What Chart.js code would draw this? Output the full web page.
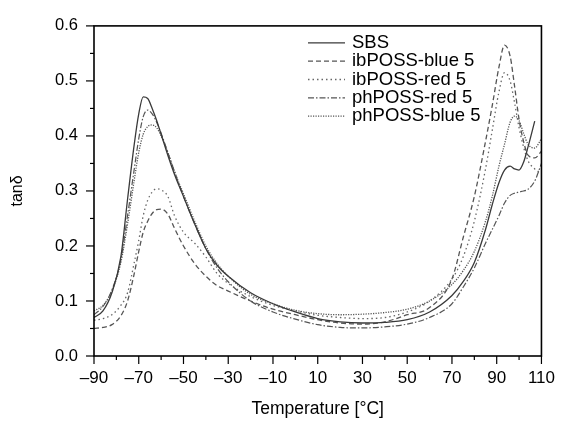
<!DOCTYPE html>
<html>
<head>
<meta charset="utf-8">
<script src="https://cdn.jsdelivr.net/npm/chart.js@4/dist/chart.umd.min.js"></script>
<style>
  html, body { margin: 0; padding: 0; background: #fff; }
  #wrap { width: 567px; height: 421px; }
</style>
</head>
<body>
<div id="wrap"><canvas id="tan-chart" width="567" height="421"></canvas></div>
<script>
// tan delta vs temperature (DMA)

const FONT = '"Liberation Sans", Arial, sans-serif';

const seriesNames = ['SBS', 'ibPOSS-blue 5', 'ibPOSS-red 5', 'phPOSS-red 5', 'phPOSS-blue 5'];

const temps = [-90, -86, -82, -78, -75, -72, -70, -68, -66, -64, -62, -60, -57, -54, -50, -45, -40, -35, -30, -20,
               -10, 0, 10, 20, 30, 40, 50, 60, 70, 75, 80, 85, 88, 91, 93.5, 96, 98, 100, 102, 104, 107, 110];

const sbs = [0.070, 0.082, 0.115, 0.180, 0.285, 0.385, 0.440, 0.471, 0.468, 0.450, 0.428, 0.403, 0.365, 0.330, 0.290, 0.240, 0.195, 0.165, 0.145, 0.115,
             0.095, 0.080, 0.068, 0.062, 0.060, 0.061, 0.066, 0.080, 0.110, 0.135, 0.170, 0.230, 0.275, 0.315, 0.338, 0.345, 0.340, 0.338, 0.352, 0.380, 0.427, null];

const ibBlue = [0.050, 0.052, 0.057, 0.073, 0.100, 0.150, 0.190, 0.225, 0.245, 0.259, 0.266, 0.267, 0.258, 0.232, 0.200, 0.168, 0.145, 0.128, 0.118, 0.100,
                0.085, 0.075, 0.066, 0.060, 0.058, 0.062, 0.075, 0.088, 0.140, 0.215, 0.290, 0.390, 0.455, 0.525, 0.565, 0.545, 0.490, 0.430, 0.390, 0.365, 0.360, 0.372];

const ibRed = [0.065, 0.068, 0.075, 0.092, 0.115, 0.170, 0.210, 0.255, 0.283, 0.298, 0.304, 0.302, 0.290, 0.255, 0.225, 0.205, 0.180, 0.150, 0.132, 0.108,
               0.092, 0.082, 0.074, 0.070, 0.068, 0.070, 0.080, 0.100, 0.140, 0.180, 0.245, 0.340, 0.410, 0.480, 0.515, 0.500, 0.460, 0.415, 0.380, 0.355, 0.340, 0.332];

const phRed = [0.075, 0.090, 0.120, 0.175, 0.255, 0.340, 0.395, 0.435, 0.447, 0.440, 0.425, 0.405, 0.370, 0.335, 0.290, 0.240, 0.195, 0.160, 0.135, 0.100,
               0.080, 0.067, 0.057, 0.052, 0.051, 0.053, 0.058, 0.070, 0.095, 0.125, 0.160, 0.205, 0.230, 0.255, 0.278, 0.292, 0.296, 0.298, 0.300, 0.303, 0.318, 0.350];

const phBlue = [0.082, 0.092, 0.118, 0.170, 0.240, 0.320, 0.370, 0.403, 0.417, 0.420, 0.415, 0.400, 0.370, 0.335, 0.295, 0.245, 0.200, 0.168, 0.145, 0.112,
                0.095, 0.083, 0.077, 0.075, 0.076, 0.079, 0.085, 0.100, 0.130, 0.155, 0.190, 0.245, 0.290, 0.345, 0.385, 0.425, 0.436, 0.428, 0.405, 0.385, 0.378, 0.395];

const xTickLabels = [-90, -70, -50, -30, -10, 10, 30, 50, 70, 90, 110];
const yTickLabels = [0.0, 0.1, 0.2, 0.3, 0.4, 0.5, 0.6];

const lineStyles = [
    { color: '#3a3a3a', width: 1.3, dash: [] },
    { color: '#555', width: 1.3, dash: [5, 3] },
    { color: '#666', width: 1.3, dash: [1.5, 3] },
    { color: '#555', width: 1.2, dash: [6, 2, 1.5, 2] },
    { color: '#555', width: 1.3, dash: [1.2, 1.3] },
];

function toPoints(values) {
    return temps.map((t, i) => ({ x: t, y: values[i] }));
}

const allSeries = [sbs, ibBlue, ibRed, phRed, phBlue];

// --- Plugins ---

const framePlugin = {
    id: 'frame',
    afterDraw(chart) {
        const { ctx, chartArea: a, scales } = chart;
        ctx.save();
        ctx.strokeStyle = '#000';
        ctx.lineWidth = 1.6;
        ctx.strokeRect(a.left, a.top, a.right - a.left, a.bottom - a.top);

        // tick marks, longer on labelled values
        ctx.lineWidth = 1.2;
        scales.x.ticks.forEach(t => {
            const px = scales.x.getPixelForValue(t.value);
            const major = xTickLabels.includes(Math.round(t.value));
            ctx.beginPath();
            ctx.moveTo(px, a.bottom);
            ctx.lineTo(px, a.bottom + (major ? 8 : 4));
            ctx.stroke();
        });
        scales.y.ticks.forEach(t => {
            const py = scales.y.getPixelForValue(t.value);
            const major = Math.abs(t.value * 10 - Math.round(t.value * 10)) < 1e-6;
            ctx.beginPath();
            ctx.moveTo(a.left, py);
            ctx.lineTo(a.left - (major ? 8 : 4), py);
            ctx.stroke();
        });
        ctx.restore();
    }
};

const legendPlugin = {
    id: 'lineLegend',
    afterDraw(chart) {
        const { ctx, chartArea: a } = chart;
        const x0 = a.left + 214;
        const y0 = a.top + 17;
        ctx.save();
        ctx.font = '18.5px ' + FONT;
        ctx.textBaseline = 'middle';
        ctx.fillStyle = '#000';
        chart.data.datasets.forEach((ds, i) => {
            const y = y0 + i * 18.3;
            ctx.strokeStyle = ds.borderColor;
            ctx.lineWidth = ds.borderWidth;
            ctx.setLineDash(ds.borderDash || []);
            ctx.beginPath();
            ctx.moveTo(x0, y);
            ctx.lineTo(x0 + 37, y);
            ctx.stroke();
            ctx.setLineDash([]);
            ctx.fillText(ds.label, x0 + 44, y);
        });
        ctx.restore();
    }
};

// --- Chart ---

const ctx = document.getElementById('tan-chart').getContext('2d');
new Chart(ctx, {
    type: 'line',
    data: {
        datasets: seriesNames.map((name, i) => ({
            label: name,
            data: toPoints(allSeries[i]),
            borderColor: lineStyles[i].color,
            borderWidth: lineStyles[i].width,
            borderDash: lineStyles[i].dash,
            pointRadius: 0,
            fill: false,
            cubicInterpolationMode: 'monotone',
        }))
    },
    options: {
        responsive: false,
        animation: false,
        layout: { padding: { left: 0, right: 20, top: 20, bottom: 0 } },
        plugins: {
            legend: { display: false },
            tooltip: { enabled: false },
        },
        scales: {
            x: {
                type: 'linear',
                min: -90,
                max: 110,
                grid: { display: false, drawTicks: false },
                border: { display: false },
                ticks: {
                    stepSize: 10,
                    autoSkip: false,
                    maxRotation: 0,
                    padding: 12,
                    color: '#000',
                    font: { family: FONT, size: 17 },
                    callback: v => xTickLabels.includes(Math.round(v))
                        ? String(Math.round(v)).replace('-', '\u2013') : ''
                },
                title: {
                    display: true,
                    text: 'Temperature [°C]',
                    color: '#000',
                    font: { family: FONT, size: 17.5 },
                    padding: 1
                },
                afterFit: s => { s.height = 65; }
            },
            y: {
                min: 0,
                max: 0.6,
                grid: { display: false, drawTicks: false },
                border: { display: false },
                ticks: {
                    stepSize: 0.05,
                    autoSkip: false,
                    padding: 16,
                    color: '#000',
                    font: { family: FONT, size: 16.5 },
                    callback: v => {
                        const major = Math.abs(v * 10 - Math.round(v * 10)) < 1e-6;
                        return major && yTickLabels.includes(Math.round(v * 10) / 10)
                            ? (Math.round(v * 10) / 10).toFixed(1) : '';
                    }
                },
                title: {
                    display: true,
                    text: 'tanδ',
                    color: '#000',
                    font: { family: FONT, size: 16 },
                    padding: 8
                },
                afterFit: s => { s.width = 94; }
            }
        }
    },
    plugins: [framePlugin, legendPlugin]
});
</script>
</body>
</html>
